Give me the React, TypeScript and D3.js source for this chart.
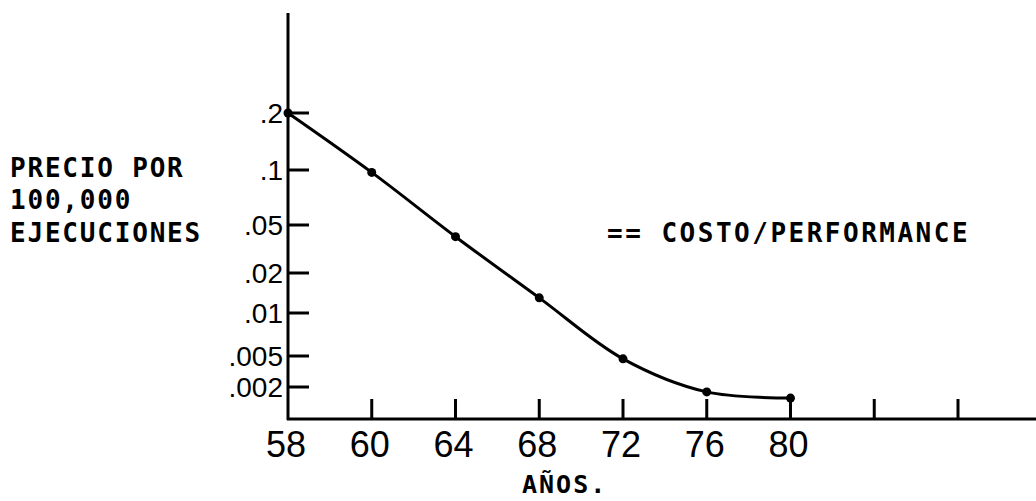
import React, { useEffect, useRef } from 'react';
import * as d3 from 'd3';

// years with a plotted point
const years = ['58', '60', '64', '68', '72', '76', '80'];
// price per 100,000 executions
const prices = [0.2, 0.097, 0.04, 0.013, 0.0046, 0.00173, 0.00144];
// x axis ticks (last two are unlabelled)
const xTickLabels = ['58', '60', '64', '68', '72', '76', '80', '', ''];
// y axis ticks (hand drawn, not evenly logarithmic)
const yTickValues = [0.2, 0.1, 0.05, 0.02, 0.01, 0.005, 0.002];
const yTickLabels = ['.2', '.1', '.05', '.02', '.01', '.005', '.002'];
const yTitleLines = ['PRECIO POR', '100,000', 'EJECUCIONES'];
const legendText = '== COSTO/PERFORMANCE';
const xTitle = 'AÑOS.';

const App = () => {
  const svgRef = useRef<SVGSVGElement | null>(null);

  useEffect(() => {
    const width = 1036;
    const height = 501;
    const originX = 288;
    const originY = 419;

    const svg = d3.select(svgRef.current).attr('width', width).attr('height', height);
    svg.selectAll('*').remove();

    const x = d3.scalePoint<string>().domain(xTickLabels.map((d, i) => `${i}`)).range([originX, 958]);
    const xPos = (i: number) => x(`${i}`) as number;

    // piecewise log scale so the ticks land where they were drawn
    const y = d3.scaleLog().domain(yTickValues).range([113, 170, 225, 273, 313, 356, 387]);

    const mono = '"DejaVu Sans Mono", monospace';
    const thin = '"Liberation Sans", Arial, sans-serif';

    // axes
    svg.append('line')
      .attr('x1', originX).attr('x2', originX)
      .attr('y1', 13).attr('y2', originY + 1)
      .attr('stroke', '#000').attr('stroke-width', 3);
    svg.append('line')
      .attr('x1', originX - 1).attr('x2', width)
      .attr('y1', originY).attr('y2', originY)
      .attr('stroke', '#000').attr('stroke-width', 3);

    // x ticks
    xTickLabels.forEach((label, i) => {
      if (i > 0) {
        svg.append('line')
          .attr('x1', xPos(i)).attr('x2', xPos(i))
          .attr('y1', originY - 20).attr('y2', originY)
          .attr('stroke', '#000').attr('stroke-width', 3);
      }
      if (label) {
        svg.append('text')
          .attr('x', xPos(i) - 2)
          .attr('y', 457)
          .attr('text-anchor', 'middle')
          .style('font-family', thin)
          .style('font-size', '36px')
          .text(label);
      }
    });

    // y ticks
    yTickValues.forEach((v, i) => {
      svg.append('line')
        .attr('x1', originX).attr('x2', originX + 21)
        .attr('y1', y(v)).attr('y2', y(v))
        .attr('stroke', '#000').attr('stroke-width', 3);
      svg.append('text')
        .attr('x', 283)
        .attr('y', y(v) + 10)
        .attr('text-anchor', 'end')
        .style('font-family', thin)
        .style('font-size', '28px')
        .text(yTickLabels[i]);
    });

    // curve
    const pts: [number, number][] = years.map((d, i) => [xPos(xTickLabels.indexOf(d)), y(prices[i])]);
    const line = d3.line().curve(d3.curveCatmullRom.alpha(0.5));
    svg.append('path')
      .attr('d', line(pts))
      .attr('fill', 'none')
      .attr('stroke', '#000')
      .attr('stroke-width', 3);

    svg.selectAll('.pt')
      .data(pts)
      .enter()
      .append('circle')
      .attr('class', 'pt')
      .attr('cx', (d) => d[0])
      .attr('cy', (d) => d[1])
      .attr('r', 4.5)
      .attr('fill', '#000');

    // y title
    yTitleLines.forEach((t, i) => {
      svg.append('text')
        .attr('x', 10)
        .attr('y', [177, 209, 242][i])
        .style('font-family', mono)
        .style('font-weight', 'bold')
        .style('font-size', '26px')
        .style('letter-spacing', '1.8px')
        .text(t);
    });

    // legend
    svg.append('text')
      .attr('x', 607)
      .attr('y', 242)
      .style('font-family', mono)
      .style('font-weight', 'bold')
      .style('font-size', '26px')
      .style('letter-spacing', '2.5px')
      .style('white-space', 'pre')
      .text(legendText);

    // x title
    svg.append('text')
      .attr('x', 522)
      .attr('y', 493)
      .style('font-family', mono)
      .style('font-weight', 'bold')
      .style('font-size', '25px')
      .style('letter-spacing', '2px')
      .text(xTitle);
  }, []);

  return (
    <div style={{ position: 'absolute', left: 0, top: 0 }}>
      <svg ref={svgRef} style={{ display: 'block', background: '#fff' }}></svg>
    </div>
  );
};

export default App;
